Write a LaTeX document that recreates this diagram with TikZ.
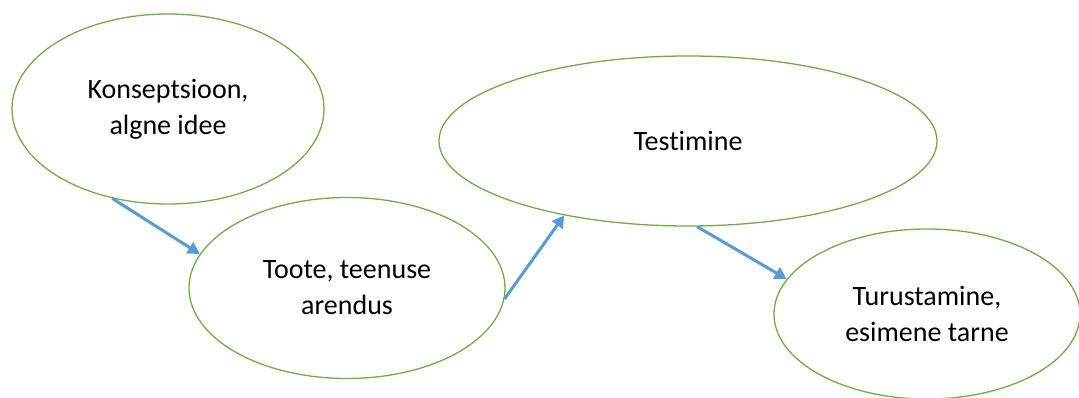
\documentclass[tikz,border=0pt]{standalone}
\usepackage{fontspec}
\setmainfont[Ligatures=NoCommon]{Carlito}
\usetikzlibrary{positioning}
\usetikzlibrary{shapes.geometric}
\usetikzlibrary{arrows.meta}
\definecolor{green}{RGB}{112,173,71}
\definecolor{blue}{RGB}{91,155,213}

\begin{document}
\begin{tikzpicture}[x=1pt,y=-1pt,
		phase/.style={ellipse,draw=green,line width=1.3pt,inner sep=0pt,align=center,
			font=\fontsize{28}{36}\selectfont},
		flow/.style={draw=blue,line width=3pt,-{Triangle[length=12pt,width=13pt]}}]
			\useasboundingbox (0,0) rectangle (1079,398);

			% Phases
			\node[phase,minimum width=312pt,minimum height=190pt] (idee) at (168,109) {Konseptsioon,\\algne idee};
			\node[phase,minimum width=316pt,minimum height=181pt] (arendus) at (347,288) {Toote, teenuse\\arendus};
			\node[phase,minimum width=498pt,minimum height=170pt] (test) at (688,141) {Testimine};
			\node[phase,minimum width=306pt,minimum height=170pt] (turg) at (927,314) {Turustamine,\\esimene tarne};

			% Arrows
			\draw[flow] (idee.-122) -- (arendus.167);
			\draw[flow] (arendus.-4) -- (test.-149);
			\draw[flow] (test.-84) -- (turg.166);
		\end{tikzpicture}
\end{document}
